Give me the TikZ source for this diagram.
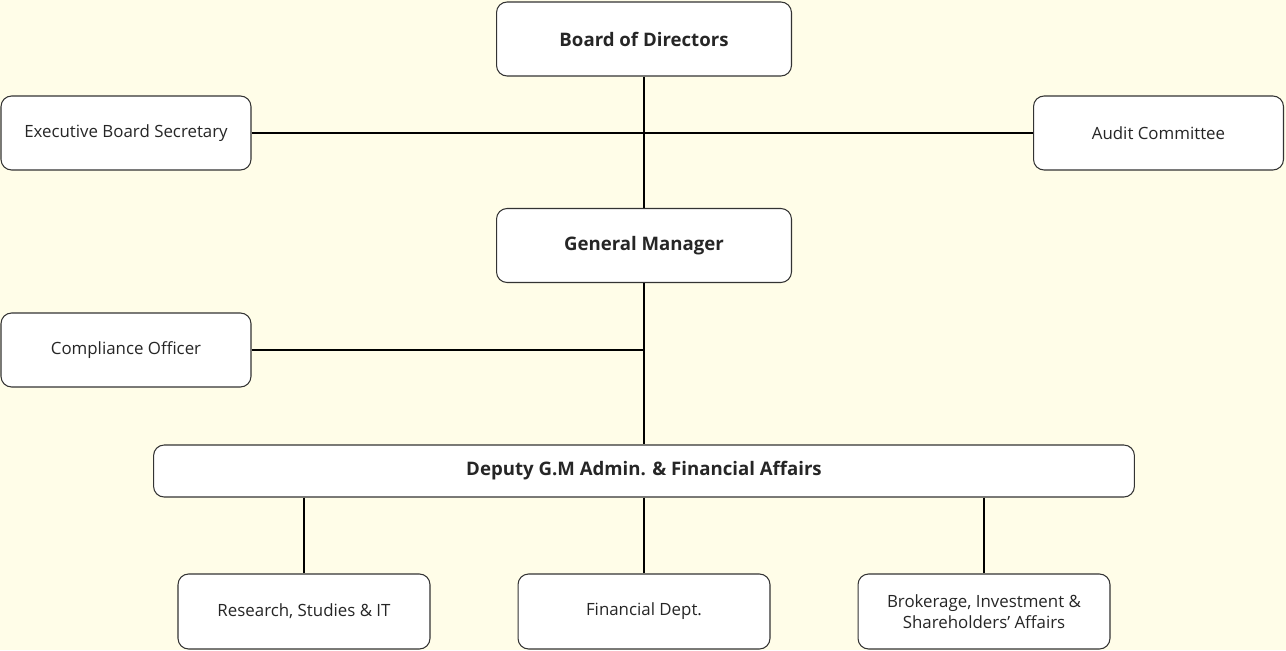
\documentclass[tikz,border=0pt]{standalone}
\usepackage{fontspec}
\setmainfont{Open Sans}
\definecolor{paper}{HTML}{FFFDE8}
\definecolor{boxline}{HTML}{333333}
\definecolor{ink}{HTML}{262626}
\begin{document}
\begin{tikzpicture}[x=0.02cm,y=-0.02cm,unit/.style={shape=rectangle,rounded corners=6pt,draw=boxline,fill=white,text=ink,line width=0.6pt,align=center,font=\fontsize{9.6}{12}\selectfont},unitT/.style={unit,font=\fontsize{10.6}{12}\selectfont\bfseries},side/.style={unit,minimum width=5cm,minimum height=1.48cm},top/.style={unitT,minimum width=5.9cm,minimum height=1.48cm},dept/.style={unit,minimum width=5.04cm,minimum height=1.5cm},link/.style={line width=0.85pt,black}]
\def\xm{644};
\def\xl{126};
\def\xr{1158.5};
\def\dx{340};

\fill[paper] (0,0) rectangle (1286,650);
\useasboundingbox (0,0) rectangle (1286,650);

\node[top] (BD) at (\xm,39) {Board of Directors};
\node[side] (ES) at (\xl,133) {Executive Board Secretary};
\node[side] (AC) at (\xr,133) {Audit Committee};
\node[top] (GM) at (\xm,245.5) {General Manager};
\node[side] (CO) at (\xl,350) {Compliance Officer};
\node[unitT,minimum width=19.62cm,minimum height=1.04cm] (DG) at (\xm,471) {Deputy G.M Admin. \& Financial Affairs};

\node[dept] (RS) at (\xm-\dx,611.5) {Research, Studies \& IT};
\node[dept] (FD) at (\xm,611.5) {Financial Dept.};
\node[dept] (BI) at (\xm+\dx,611.5) {Brokerage, Investment \&\\Shareholders' Affairs};

\coordinate (J2) at (GM.south |- CO.east);

\draw[link] (BD.south) -- (GM.north);
\draw[link] (ES.east) -- (AC.west);
\draw[link] (GM.south) -- (DG.north);
\draw[link] (CO.east) -- (J2);
\draw[link] (DG.south -| RS.north) -- (RS.north);
\draw[link] (DG.south) -- (FD.north);
\draw[link] (DG.south -| BI.north) -- (BI.north);
\end{tikzpicture}
\end{document}
